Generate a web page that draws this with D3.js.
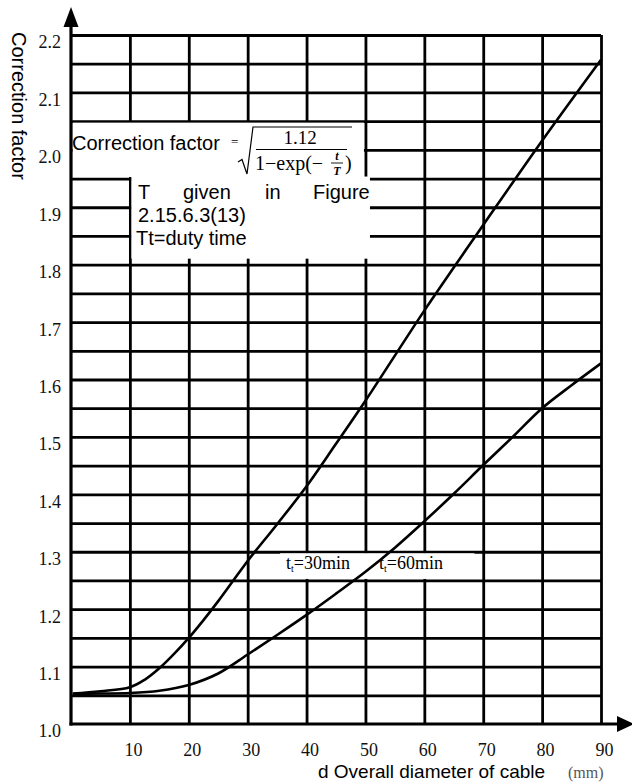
<!DOCTYPE html>
<html>
<head>
<meta charset="utf-8">
<script src="https://cdn.jsdelivr.net/npm/d3@7/dist/d3.min.js"></script>
<style>
  html, body { margin: 0; padding: 0; background: #fff; }
  svg { display: block; }
</style>
</head>
<body>
<script>
// ---------------- data ----------------
const xTickValues = [10, 20, 30, 40, 50, 60, 70, 80, 90];
const yTickValues = [1.0, 1.1, 1.2, 1.3, 1.4, 1.5, 1.6, 1.7, 1.8, 1.9, 2.0, 2.1, 2.2];
const xGridValues = [10, 20, 30, 40, 50, 60, 70, 80, 90];
const yGridValues = [1.05, 1.1, 1.15, 1.2, 1.25, 1.3, 1.35, 1.4, 1.45, 1.5, 1.55, 1.6,
                     1.65, 1.7, 1.75, 1.8, 1.85, 1.9, 1.95, 2.0, 2.05, 2.1, 2.15, 2.2];

// t = 30 min curve
const d30 = [0.3, 5, 10, 12.5, 15, 17.5, 20, 22.5, 25, 27.5, 30, 35, 40, 45, 50, 60, 70, 80, 90];
const v30 = [1.053, 1.057, 1.064, 1.077, 1.097, 1.122, 1.150, 1.181, 1.214, 1.249, 1.284,
             1.348, 1.414, 1.488, 1.563, 1.72, 1.869, 2.016, 2.157];
// t = 60 min curve
const d60 = [0.3, 5, 10, 15, 20, 25, 30, 35, 40, 45, 50, 55, 60, 65, 70, 75, 80, 85, 90];
const v60 = [1.052, 1.053, 1.054, 1.058, 1.068, 1.088, 1.121, 1.155, 1.19, 1.227, 1.265,
             1.307, 1.353, 1.401, 1.451, 1.5, 1.55, 1.59, 1.628];

const yTitle = "Correction factor";
const xTitle = "d Overall diameter of cable";
const xUnit = "(mm)";
const label30 = ["t", "t", "=30min"];
const label60 = ["t", "t", "=60min"];

// ---------------- setup ----------------
const W = 632, H = 784;
const SANS = "'Liberation Sans', Arial, sans-serif";
const SERIF = "'Liberation Serif', 'Times New Roman', serif";

const x = d3.scaleLinear().domain([0, 90]).range([71, 601]);
const y = d3.scaleLinear().domain([1.0, 2.2]).range([724, 35]);

const svg = d3.select("body").append("svg").attr("width", W).attr("height", H);

// ---------------- grid ----------------
const gy = svg.append("g")
  .attr("transform", `translate(${x(0)},0)`)
  .call(d3.axisLeft(y).tickValues(yGridValues).tickSize(-(x(90) - x(0))).tickFormat(""));
gy.select(".domain").remove();
gy.selectAll("line").attr("stroke", "#000").attr("stroke-width", 2.8);

const gx = svg.append("g")
  .attr("transform", `translate(0,${y(1.0)})`)
  .call(d3.axisBottom(x).tickValues(xGridValues).tickSize(-(y(1.0) - y(2.2))).tickFormat(""));
gx.select(".domain").remove();
gx.selectAll("line").attr("stroke", "#000").attr("stroke-width", 2.8);

// ---------------- white text boxes ----------------
svg.append("rect")
  .attr("x", x(0) + 1.5).attr("y", y(2.05) + 1.5)
  .attr("width", x(50) - x(0) - 3).attr("height", y(1.95) - y(2.05) - 3)
  .attr("fill", "#fff");
svg.append("rect")
  .attr("x", x(10) + 1.5).attr("y", y(1.95) - 2)
  .attr("width", x(50) - x(10) + 3).attr("height", y(1.8) - y(1.95) - 4)
  .attr("fill", "#fff");
// curve label box
svg.append("rect")
  .attr("x", x(35.5)).attr("y", y(1.3) + 1.5)
  .attr("width", x(68.5) - x(35.5)).attr("height", y(1.25) - y(1.3) - 3)
  .attr("fill", "#fff");

// ---------------- formula text ----------------
const ft = svg.append("g");
ft.append("text").attr("x", 72).attr("y", 150)
  .attr("font-family", SANS).attr("font-size", 20).text("Correction factor");
ft.append("text").attr("x", 231).attr("y", 146)
  .attr("font-family", SERIF).attr("font-size", 13).text("=");
// sqrt
ft.append("path").attr("d", "M238,162 L242,159.5 L247,174 L253,127 L352,127")
  .attr("fill", "none").attr("stroke", "#000").attr("stroke-width", 1.2);
ft.append("text").attr("x", 300).attr("y", 144).attr("text-anchor", "middle")
  .attr("font-family", SERIF).attr("font-size", 19).text("1.12");
ft.append("line").attr("x1", 256).attr("x2", 347).attr("y1", 149.5).attr("y2", 149.5)
  .attr("stroke", "#000").attr("stroke-width", 1);
ft.append("text").attr("x", 255).attr("y", 170)
  .attr("font-family", SERIF).attr("font-size", 20).text("1\u2212exp(\u2212");
ft.append("text").attr("x", 337).attr("y", 160).attr("text-anchor", "middle")
  .attr("font-family", SERIF).attr("font-size", 12).attr("font-style", "italic").attr("font-weight", "bold").text("t");
ft.append("line").attr("x1", 331).attr("x2", 343).attr("y1", 163).attr("y2", 163)
  .attr("stroke", "#000").attr("stroke-width", 0.9);
ft.append("text").attr("x", 337).attr("y", 175).attr("text-anchor", "middle")
  .attr("font-family", SERIF).attr("font-size", 12).attr("font-style", "italic").attr("font-weight", "bold").text("T");
ft.append("text").attr("x", 345).attr("y", 170)
  .attr("font-family", SERIF).attr("font-size", 20).text(")");

const words = [["T", 138], ["given", 183], ["in", 265], ["Figure", 313]];
words.forEach(([w, px]) => {
  ft.append("text").attr("x", px).attr("y", 199)
    .attr("font-family", SANS).attr("font-size", 20).text(w);
});
ft.append("text").attr("x", 138).attr("y", 222)
  .attr("font-family", SANS).attr("font-size", 20).text("2.15.6.3(13)");
ft.append("text").attr("x", 136).attr("y", 245)
  .attr("font-family", SANS).attr("font-size", 20).text("Tt=duty time");

// ---------------- curves ----------------
const line = d3.line().x(d => x(d[0])).y(d => y(d[1])).curve(d3.curveCatmullRom.alpha(0.5));
svg.append("path").datum(d30.map((d, i) => [d, v30[i]]))
  .attr("d", line).attr("fill", "none").attr("stroke", "#000").attr("stroke-width", 2.6);
svg.append("path").datum(d60.map((d, i) => [d, v60[i]]))
  .attr("d", line).attr("fill", "none").attr("stroke", "#000").attr("stroke-width", 2.6);

// curve labels
function curveLabel(parts, px, py) {
  const t = svg.append("text").attr("x", px).attr("y", py)
    .attr("font-family", SERIF).attr("font-size", 18);
  t.append("tspan").text(parts[0]);
  t.append("tspan").attr("font-size", 10).attr("dy", 3).text(parts[1]);
  t.append("tspan").attr("dy", -3).text(parts[2]);
}
curveLabel(label30, 286, 569);
curveLabel(label60, 379, 569);

// ---------------- axes ----------------
svg.append("line").attr("x1", x(0)).attr("x2", x(0)).attr("y1", y(1.0) + 1.5).attr("y2", 20)
  .attr("stroke", "#000").attr("stroke-width", 3.2);
svg.append("path").attr("d", `M${x(0)},7 L${x(0) - 7.5},27 L${x(0) + 7.5},27 Z`).attr("fill", "#000");
svg.append("line").attr("x1", x(0) - 1.5).attr("x2", 622).attr("y1", y(1.0)).attr("y2", y(1.0))
  .attr("stroke", "#000").attr("stroke-width", 3.2);
svg.append("path").attr("d", `M634,${y(1.0)} L617,${y(1.0) - 8} L617,${y(1.0) + 8} Z`).attr("fill", "#000");

// tick labels
const ay = svg.append("g").attr("transform", `translate(${x(0)},0)`)
  .call(d3.axisLeft(y).tickValues(yTickValues).tickSize(0).tickPadding(10).tickFormat(d3.format(".1f")));
ay.select(".domain").remove();
ay.selectAll("text").attr("font-family", SERIF).attr("font-size", 18).attr("fill", "#111")
  .attr("dy", "0.72em");

const ax = svg.append("g").attr("transform", `translate(0,${y(1.0)})`)
  .call(d3.axisBottom(x).tickValues(xTickValues).tickSize(0).tickPadding(19));
ax.select(".domain").remove();
ax.selectAll("text").attr("font-family", SERIF).attr("font-size", 18).attr("fill", "#111")
  .attr("dx", 3);

// titles
svg.append("text").attr("transform", "translate(12,32) rotate(90)")
  .attr("font-family", SANS).attr("font-size", 20).text(yTitle);
svg.append("text").attr("x", 318).attr("y", 778)
  .attr("font-family", SANS).attr("font-size", 19).text(xTitle);
svg.append("text").attr("x", 568).attr("y", 778)
  .attr("font-family", SERIF).attr("font-size", 16).attr("fill", "#555").text(xUnit);
</script>
</body>
</html>
